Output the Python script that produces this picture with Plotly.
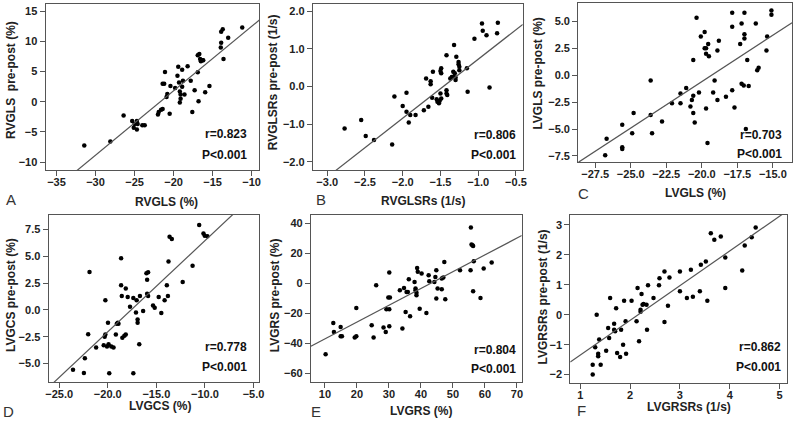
import plotly.graph_objects as go

W, H = 800, 423

# ---------------- data ----------------
a_x = [-31.44, -28.1, -26.4, -25.3, -25.0, -24.7, -25.1, -24.7, -24.6, -24.0, -23.7, -22.0, -21.9, -21.6,
       -21.4, -20.5, -21.1, -21.2, -21.4, -20.8, -20.9, -20.4, -19.8, -19.5, -19.4, -19.3, -19.2, -19.1,
       -19.1, -19.2, -18.9, -18.9, -18.8, -18.6, -18.2, -17.8, -17.6, -17.3, -16.9, -16.9, -16.7, -16.6,
       -16.5, -16.3, -16.2, -16.8, -15.95, -15.4, -13.9, -13.7, -13.9, -13.95, -13.6, -13.0, -11.2]
a_y = [-7.23, -6.56, -2.26, -3.2, -3.7, -3.2, -4.3, -4.6, -3.7, -3.9, -3.9, -2.1, -1.7, -1.3,
       -1.2, -2.0, 4.93, 3.0, 3.0, 1.3, 0.8, 2.6, 2.3, 4.3, 5.8, 3.2, 1.7, 1.2,
       0.5, -0.1, 2.5, 5.3, 3.5, 1.2, 5.9, 3.5, -1.7, 1.9, 4.9, 7.7, 7.9, 7.1,
       6.7, 6.9, 6.9, 0.1, 1.6, 2.6, 11.6, 12.0, 9.8, 9.0, 7.1, 10.6, 12.3]

b_x = [-2.77, -2.55, -2.49, -2.38, -2.14, -2.11, -2.0, -1.95, -1.95, -1.92, -1.9, -1.83, -1.69, -1.63,
       -1.63, -1.6, -1.72, -1.66, -1.61, -1.55, -1.54, -1.52, -1.51, -1.5, -1.49, -1.49, -1.5, -1.49,
       -1.42, -1.42, -1.42, -1.41, -1.37, -1.35, -1.33, -1.33, -1.32, -1.31, -1.3, -1.3, -1.29, -1.26,
       -1.26, -1.25, -1.25, -1.15, -1.14, -1.05, -0.95, -0.94, -0.89, -0.85, -0.74, -0.75]
b_y = [-1.12, -0.89, -1.32, -1.42, -1.54, -0.27, -0.52, -0.17, -0.67, -0.96, -0.76, -0.76, 0.21, 0.14,
       0.06, 0.39, -0.63, -0.54, -0.30, -0.34, -0.41, -0.45, -0.38, 0.41, 0.48, 0.35, -0.19, -0.32,
       0.83, -0.1, -0.19, -0.23, 0.21, 0.25, 0.26, 0.39, 1.1, 0.35, 0.17, 0.24, 0.79, 0.65,
       0.59, 0.52, 0.43, 0.48, -0.14, 1.27, 1.67, 1.48, 1.36, -0.03, 1.69, 1.41]

c_x = [-26.8, -26.7, -25.6, -25.6, -25.6, -24.8, -24.9, -23.6, -23.6, -23.5, -22.8, -22.1, -21.5, -21.5,
       -21.1, -20.8, -20.7, -20.6, -20.6, -20.6, -20.5, -20.2, -20.37, -20.07, -19.8, -19.8, -19.7, -19.7,
       -19.55, -19.5, -19.7, -19.6, -19.1, -19.2, -18.9, -18.9, -18.8, -18.3, -17.86, -17.86, -17.86, -17.7,
       -17.3, -17.2, -17.0, -17.0, -17.0, -17.2, -17.05, -16.9, -16.8, -16.7, -16.2, -16.1, -16.0, -15.4,
       -15.45, -15.1, -15.1]
c_y = [-7.44, -5.9, -6.7, -6.85, -4.6, -3.5, -5.4, -0.5, -3.7, -5.4, -4.3, -2.6, -2.6, -1.7,
       -1.2, -2.9, -2.3, 1.4, -1.9, -3.5, -4.4, -1.6, 5.34, 3.6, 4.0, 2.5, 2.5, 2.0,
       2.9, 1.75, -3.1, -6.3, -0.5, -1.6, -2.3, 2.3, 3.2, -2.0, 5.8, 4.5, -1.4, -3.0,
       2.9, 4.8, 5.8, 3.8, 3.4, -0.8, -0.95, -5.0, 1.4, -1.0, 4.8, 0.45, 0.7, 3.6,
       2.3, 6.0, 5.6]

d_x = [-23.58, -22.46, -22.36, -22.02, -21.88, -21.2, -20.42, -20.32, -20.25, -20.25, -20.08, -19.98, -19.92,
       -19.85, -19.64, -19.41, -19.17, -19.07, -18.97, -18.9, -18.63, -18.63, -18.56, -18.5, -18.29, -18.15,
       -18.15, -17.95, -17.71, -17.37, -17.37, -17.1, -17.03, -16.93, -16.93, -16.76, -16.69, -16.36, -16.02,
       -15.85, -15.95, -15.95, -15.85, -15.34, -15.17, -14.76, -14.49, -14.15, -13.92, -13.81, -13.75, -13.64,
       -13.41, -12.29, -11.27, -10.59, -10.15, -10.02, -9.75]
d_y = [-5.56, -5.87, -4.5, -2.27, 3.53, -3.5, -3.3, -2.5, -2.3, 0.9, -3.4, -1.2, -3.2,
       -5.9, -3.4, -3.5, -2.3, -1.3, -1.2, -1.3, 4.8, 2.3, 1.3, -2.6, -2.4, 2.0,
       -2.3, 1.2, 0.3, 1.1, -5.9, -0.25, 0.9, -0.9, -1.2, -3.2, 1.3, -0.1, 3.4,
       3.5, 2.8, 1.5, 1.3, 0.4, 0.2, 1.2, -0.3, 0.9, 2.3, 1.3, 4.5, 6.8,
       6.6, 2.6, 4.1, 7.9, 7.1, 6.9, 6.85]

e_x = [10.2, 12.6, 12.8, 14.9, 14.9, 15.3, 19.3, 19.8, 19.8, 24.6, 25.2, 26.0, 28.3, 29.0, 29.2, 29.8,
       30.1, 30.3, 30.1, 30.1, 33.4, 34.2, 34.7, 35.2, 35.5, 35.9, 36.2, 36.6, 38.0, 38.3, 38.3, 38.6,
       38.6, 38.8, 39.0, 39.6, 40.2, 41.7, 42.4, 42.6, 44.2, 44.5, 44.8, 44.8, 45.2, 46.5, 46.5, 47.0,
       47.3, 47.6, 52.2, 55.5, 55.6, 55.8, 56.1, 56.3, 56.3, 56.5, 59.6, 58.6, 62.1]
e_y = [-47.1, -26.2, -32.2, -28.9, -35.1, -35.1, -36.0, -16.2, -35.1, -27.8, -36.0, -1.1, -29.3, -32.2, -17.1, -9.3,
       -17.1, -9.3, -28.4, 7.3, -4.4, -30.0, -2.9, -18.9, -5.6, -5.6, 2.9, -21.8, 1.1, -3.3, -4.4, -6.2,
       -7.8, 10.4, 7.8, -16.7, 6.7, -19.6, 5.6, 1.6, 1.1, 4.4, 8.9, -10.0, -3.3, 3.3, -3.8, 4.0,
       14.4, -10.4, 8.9, 8.9, 37.3, 26.0, 25.6, 25.1, -5.1, 14.9, 10.0, -9.6, 14.0]

f_x = [1.25, 1.25, 1.3, 1.33, 1.36, 1.36, 1.38, 1.41, 1.52, 1.56, 1.58, 1.6, 1.68, 1.68, 1.7, 1.72,
       1.74, 1.8, 1.82, 1.86, 1.88, 1.91, 1.92, 2.03, 2.13, 2.15, 2.18, 2.21, 2.21, 2.23, 2.25, 2.27,
       2.33, 2.34, 2.36, 2.47, 2.58, 2.59, 2.69, 2.69, 2.76, 2.79, 3.0, 3.0, 3.14, 3.22, 3.26, 3.42,
       3.4, 3.52, 3.55, 3.62, 3.69, 3.82, 3.91, 3.91, 4.25, 4.3, 4.44, 4.52]
f_y = [-2.0, -1.67, -1.09, 0.0, -1.39, -1.3, -0.83, -1.67, -1.2, -0.44, -0.78, 0.56, -0.3, -0.5, -0.55, 0.22,
       -1.28, -1.41, -0.5, -1.0, 0.47, -0.22, -1.3, 0.47, -0.22, 0.89, -0.89, 0.17, 0.1, 0.69, 0.33, 0.36,
       0.33, -0.5, 0.98, 0.56, 0.98, 1.22, 1.44, -0.24, 0.3, 1.24, 1.44, 0.78, 0.56, 1.5, 0.6, 1.67,
       0.78, 1.78, 0.47, 2.72, 2.5, 2.61, 1.91, 0.89, 1.48, 2.31, 2.59, 2.91]

fit_slope = [1.067, 1.567, 0.862, 0.848, 1.119, 1.16]
fit_intercept = [23.16, 2.29, 16.64, 14.92, -48.0, -2.51]

r_text = ["r=0.823", "r=0.806", "r=0.703", "r=0.778", "r=0.804", "r=0.862"]
p_text = ["P<0.001"] * 6
panel_letters = ["A", "B", "C", "D", "E", "F"]
x_titles = ["RVGLS (%)", "RVGLSRs (1/s)", "LVGLS (%)", "LVGCS (%)", "LVGRS (%)", "LVGRSRs (1/s)"]
y_titles = ["RVGLS  pre-post (%)", "RVGLSRs pre-post (1/s)", "LVGLS pre-post (%)",
            "LVGCS pre-post (%)", "LVGRS pre-post (%)", "LVGRSRs pre-post (1/s)"]

x_ticks = [[-35, -30, -25, -20, -15, -10], [-3.0, -2.5, -2.0, -1.5, -1.0, -0.5],
           [-27.5, -25.0, -22.5, -20.0, -17.5, -15.0], [-25.0, -20.0, -15.0, -10.0, -5.0],
           [10, 20, 30, 40, 50, 60, 70], [1, 2, 3, 4, 5]]
y_ticks = [[-10, -5, 0, 5, 10, 15], [-2.0, -1.0, 0.0, 1.0, 2.0],
           [-7.5, -5.0, -2.5, 0.0, 2.5, 5.0], [-5.0, -2.5, 0.0, 2.5, 5.0, 7.5],
           [-60, -40, -20, 0, 20, 40], [-2, -1, 0, 1, 2, 3]]
x_fmt = ["d", ".1f", ".1f", ".1f", "d", "d"]
y_fmt = ["d", ".1f", ".1f", ".1f", "d", "d"]

x_ranges = [[-36.4, -9.0], [-3.19, -0.41], [-28.7, -13.65], [-26.1, -4.39], [5.6, 71.5], [0.80, 5.15]]
y_ranges = [[-11.3, 16.2], [-2.22, 2.19], [-8.06, 6.7], [-6.71, 8.83], [-65.6, 45.7], [-2.28, 3.33]]

# ---------------- layout geometry (pixels) ----------------
boxes = [(43, 259, 4, 170), (313, 525, 4, 170), (581, 797, 3, 162),
         (46, 259, 215, 382), (311, 524, 215, 382), (573, 792, 215, 383)]
xt_pos = [(165, 202), (424, 201), (699, 193), (159, 406), (422, 411), (693, 407)]
yt_pos = [(8, 80), (273, 82), (540, 74), (8, 295), (275, 295), (545, 297)]
letter_pos = [(8, 199), (321, 199), (586, 193), (6, 411), (316, 411), (584, 410)]
stat_pos = [(248, 134, 155), (520, 135, 155), (789, 135, 154),
            (248, 347, 367), (520, 350, 369), (788, 347, 367)]

FONT = "Arial, Liberation Sans, sans-serif"

def px(x):
    return x / W

def py(y):
    return 1 - y / H

xs = [a_x, b_x, c_x, d_x, e_x, f_x]
ys = [a_y, b_y, c_y, d_y, e_y, f_y]

fig = go.Figure()
annotations = []
layout = {}
for i in range(6):
    n = "" if i == 0 else str(i + 1)
    xa, ya = "x" + n, "y" + n
    fig.add_trace(go.Scatter(x=xs[i], y=ys[i], mode="markers", xaxis=xa, yaxis=ya,
                             marker=dict(color="black", size=4.5), showlegend=False, hoverinfo="skip"))
    x0, x1 = x_ranges[i]
    fig.add_trace(go.Scatter(x=[x0, x1],
                             y=[fit_slope[i] * x0 + fit_intercept[i], fit_slope[i] * x1 + fit_intercept[i]],
                             mode="lines", xaxis=xa, yaxis=ya,
                             line=dict(color="#555555", width=1.2), showlegend=False, hoverinfo="skip"))
    l, r, t, b = boxes[i]
    axis_common = dict(showline=True, mirror=True, linecolor="#555555", linewidth=1,
                       ticks="outside", ticklen=5, tickcolor="#555555", tickwidth=1,
                       showgrid=False, zeroline=False,
                       tickfont=dict(family=FONT, size=11, color="#222222", weight="bold"))
    layout["xaxis" + n] = dict(axis_common, domain=[px(l), px(r)], range=x_ranges[i],
                               tickvals=x_ticks[i], tickformat=x_fmt[i], anchor=ya, ticklabelstandoff=-3)
    layout["yaxis" + n] = dict(axis_common, domain=[py(b), py(t)], range=y_ranges[i],
                               tickvals=y_ticks[i], tickformat=y_fmt[i], anchor=xa, ticklabelstandoff=0)
    # axis titles
    annotations.append(dict(text=x_titles[i], x=px(xt_pos[i][0]), y=py(xt_pos[i][1]), xref="paper",
                            yref="paper", xanchor="center", yanchor="middle", showarrow=False,
                            font=dict(family=FONT, size=12, color="#222222", weight="bold")))
    annotations.append(dict(text=y_titles[i], x=px(yt_pos[i][0]), y=py(yt_pos[i][1]), xref="paper",
                            yref="paper", xanchor="center", yanchor="middle", showarrow=False, textangle=-90,
                            font=dict(family=FONT, size=12, color="#222222", weight="bold")))
    annotations.append(dict(text=panel_letters[i], x=px(letter_pos[i][0]), y=py(letter_pos[i][1]),
                            xref="paper", yref="paper", xanchor="center", yanchor="middle", showarrow=False,
                            font=dict(family=FONT, size=15, color="#333333")))
    sx, sy1, sy2 = stat_pos[i]
    annotations.append(dict(text=r_text[i], x=px(sx), y=py(sy1), xref="paper", yref="paper",
                            xanchor="right", yanchor="middle", showarrow=False,
                            font=dict(family=FONT, size=12, color="#111111", weight="bold")))
    annotations.append(dict(text=p_text[i], x=px(sx), y=py(sy2), xref="paper", yref="paper",
                            xanchor="right", yanchor="middle", showarrow=False,
                            font=dict(family=FONT, size=12, color="#111111", weight="bold")))

fig.update_layout(**layout)
fig.update_layout(width=W, height=H, autosize=False, margin=dict(l=0, r=0, t=0, b=0),
                  paper_bgcolor="white", plot_bgcolor="white", annotations=annotations,
                  font=dict(family=FONT))
fig.write_html("out.html", config={"displayModeBar": False},
               post_script="document.body.style.margin='0';document.body.style.overflow='hidden';")
